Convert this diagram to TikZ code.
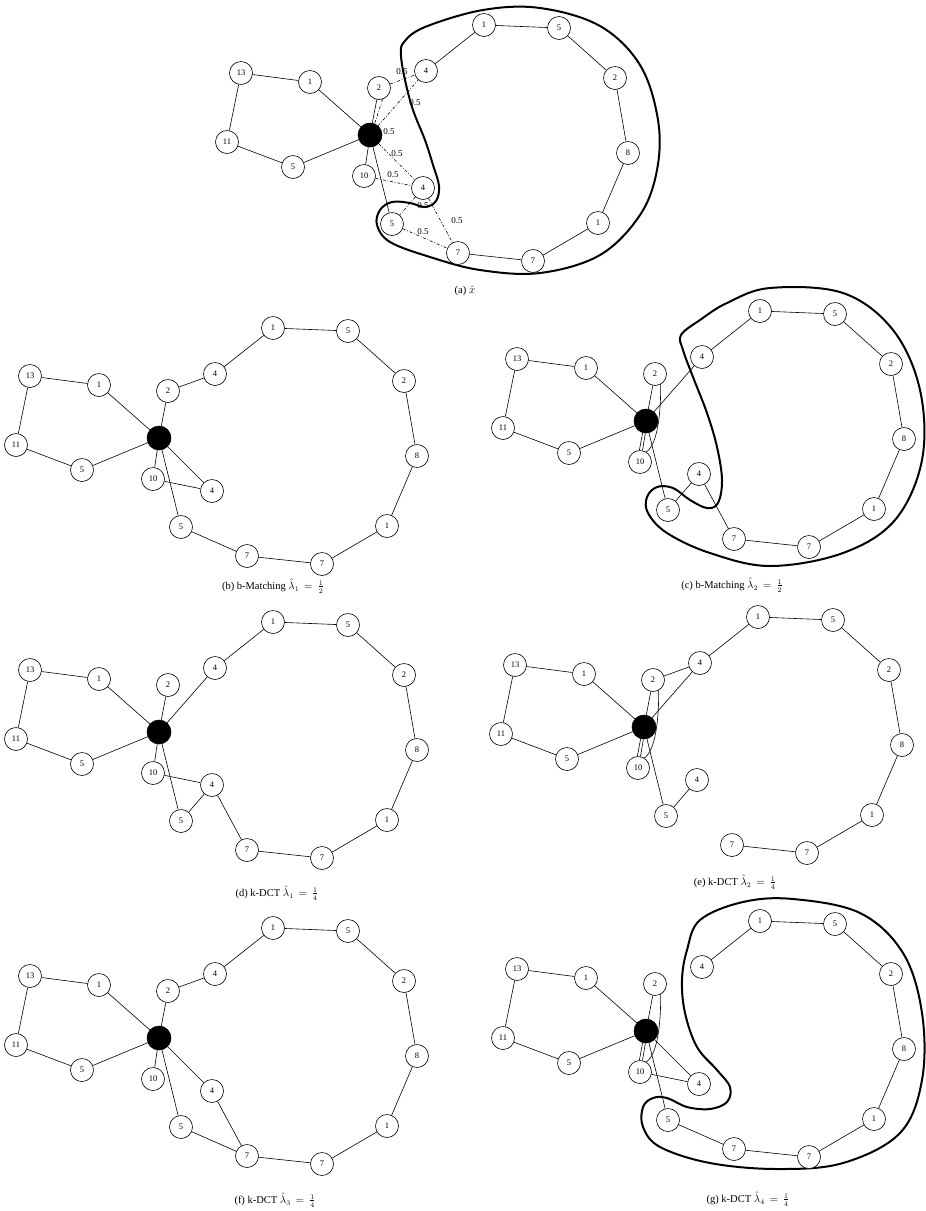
\documentclass[tikz,border=0pt]{standalone}
\usepackage{fontspec}
\setmainfont{Liberation Serif}
\usetikzlibrary{calc}
\tikzset{
  v/.style={circle, draw, line width=0.6pt, minimum size=23pt, inner sep=0pt, fill=white, font=\fontsize{8.5}{9}\selectfont},
  hub/.style={circle, draw, fill=black, line width=0.6pt, minimum size=24pt, inner sep=0pt},
  e/.style={line width=0.6pt},
  de/.style={line width=0.6pt, dash pattern=on 3pt off 1.8pt on 0.8pt off 1.8pt},
  lbl/.style={font=\fontsize{9}{10}\selectfont, inner sep=0pt},
  blob/.style={line width=2pt, line join=round},
  capt/.style={font=\fontsize{10.5}{12}\selectfont, inner sep=1pt}
}
\newcommand\mygraphnodes{%
  \node[hub] (b) at (0,0) {};
  \node[v] (p13) at (-129,-62) {13};
  \node[v] (p1) at (-60,-53) {1};
  \node[v] (p11) at (-143,7) {11};
  \node[v] (p5) at (-77,32) {5};
  \node[v] (q2) at (9,-47) {2};
  \node[v] (q10) at (-6,41) {10};
  \node[v] (u4) at (56,-64) {4};
  \node[v] (t1) at (114,-110) {1};
  \node[v] (t5) at (189,-107) {5};
  \node[v] (r2) at (245,-57) {2};
  \node[v] (r8) at (258,18) {8};
  \node[v] (r1) at (228,88) {1};
  \node[v] (b7) at (163,126) {7};
  \node[v] (l7) at (88,118) {7};
  \node[v] (l5) at (22,89) {5};
  \node[v] (l4) at (53,53) {4};
  \draw[e] (p13)--(p1) (p13)--(p11) (p11)--(p5) (p5)--(b) (p1)--(b)
    (u4)--(t1) (t1)--(t5) (t5)--(r2) (r2)--(r8) (r8)--(r1) (r1)--(b7) (b7)--(l7);
}
\newcommand\mycurvedpair{%
  \draw[e] (q2.-62) .. controls ($(b)+(15,-22)$) and ($(b)+(14,22)$) .. (q10.58);
  \draw[e] (b.-106)--(q10.93);
  \draw[e] (b.-93)--(q10.78);
}
\begin{document}
\begin{tikzpicture}[x=1pt,y=-1pt]
\useasboundingbox (0,0) rectangle (926,1211);
% ---------- blobs ----------
\draw[blob] plot[smooth cycle, tension=0.6] coordinates {
 (404,42) (425,27) (483,10) (540,8) (600,26) (640,65) (658,120) (657,170)
 (640,215) (600,255) (540,273) (480,270) (430,257) (390,242) (377,225)
 (380,210) (392,202) (410,203) (425,207) (436,201) (439,186) (433,165)
 (425,140) (413,110) (405,80) (401,55)};
\draw[blob] plot[smooth cycle, tension=0.6] coordinates {
 (681,335) (700,320) (727,303) (770,288) (843,293) (893,330) (920,390)
 (922,460) (895,520) (843,553) (770,566) (710,553) (667,533) (648,513)
 (647,497) (657,487) (673,488) (690,500) (707,508) (718,503) (722,480)
 (717,447) (707,413) (693,377) (683,350)};
\draw[blob] plot[smooth cycle, tension=0.6] coordinates {
 (700,920) (743,902) (793,899) (860,913) (903,953) (922,1013) (922,1080)
 (900,1133) (843,1163) (777,1169) (710,1163) (660,1147) (643,1127)
 (643,1107) (653,1098) (667,1098) (687,1107) (710,1109) (727,1102)
 (730,1087) (717,1070) (697,1047) (685,1013) (682,980) (687,950)};
% ---------- (a) ----------
\begin{scope}[shift={(370,135)}, name prefix=a-]
  \mygraphnodes
  \draw[e] (b)--(q2) (b)--(q10) (b)--(l5);
  \draw[de] (q2)--(u4) (b)--(u4) (q2.-72)--(b.68) (b)--(l4) (q10)--(l4)
    (l4)--(l5) (l4)--(l7) (l5)--(l7);
  \node[lbl] (la1) at (32,-63) {0.5};
  \node[lbl] (la2) at (45,-32) {0.5};
  \node[lbl] (la3) at (19,-3) {0.5};
  \node[lbl] (la4) at (27,19) {0.5};
  \node[lbl] (la5) at (23,40) {0.5};
  \node[lbl] (la6) at (53,71) {0.5};
  \node[lbl] (la7) at (87,86) {0.5};
  \node[lbl] (la8) at (53,97) {0.5};
\end{scope}
\node[capt] (ca) at (465,291) {(a) $\hat{x}$};
% ---------- (b) ----------
\begin{scope}[shift={(159,438)}, name prefix=b-]
  \mygraphnodes
  \draw[e] (b)--(q2) (q2)--(u4) (b)--(l5) (l5)--(l7) (b)--(q10) (b)--(l4) (q10)--(l4);
\end{scope}
\node[capt] (cb) at (273,586) {(b) b-Matching $\hat{\lambda}_1\,=\,\frac{1}{2}$};
% ---------- (c) ----------
\begin{scope}[shift={(646,421)}, name prefix=c-]
  \mygraphnodes
  \draw[e] (b)--(q2) (b)--(u4) (l7)--(l4) (l4)--(l5) (b)--(l5);
  \mycurvedpair
\end{scope}
\node[capt] (cc) at (732,585) {(c) b-Matching $\hat{\lambda}_2\,=\,\frac{1}{2}$};
% ---------- (d) ----------
\begin{scope}[shift={(159,732)}, name prefix=d-]
  \mygraphnodes
  \draw[e] (b)--(q2) (b)--(u4) (l7)--(l4) (l4)--(l5) (b)--(l5) (b)--(q10) (q10)--(l4);
\end{scope}
\node[capt] (cd) at (277,893) {(d) k-DCT $\hat{\lambda}_1\,=\,\frac{1}{4}$};
% ---------- (e) ----------
\begin{scope}[shift={(644,727)}, name prefix=e-]
  \mygraphnodes
  \draw[e] (b)--(q2) (q2)--(u4) (b)--(u4) (b)--(l5) (l5)--(l4);
  \mycurvedpair
\end{scope}
\node[capt] (ce) at (735,882) {(e) k-DCT $\hat{\lambda}_2\,=\,\frac{1}{4}$};
% ---------- (f) ----------
\begin{scope}[shift={(159,1038)}, name prefix=f-]
  \mygraphnodes
  \draw[e] (b)--(q2) (q2)--(u4) (l7)--(l4) (l7)--(l5) (b)--(l5) (b)--(q10) (b)--(l4);
\end{scope}
\node[capt] (cf) at (275,1200) {(f) k-DCT $\hat{\lambda}_3\,=\,\frac{1}{4}$};
% ---------- (g) ----------
\begin{scope}[shift={(646,1031)}, name prefix=g-]
  \mygraphnodes
  \draw[e] (b)--(q2) (b)--(l4) (q10)--(l4) (b)--(l5) (l5)--(l7);
  \mycurvedpair
\end{scope}
\node[capt] (cg) at (748,1199) {(g) k-DCT $\hat{\lambda}_4\,=\,\frac{1}{4}$};
\end{tikzpicture}
\end{document}
